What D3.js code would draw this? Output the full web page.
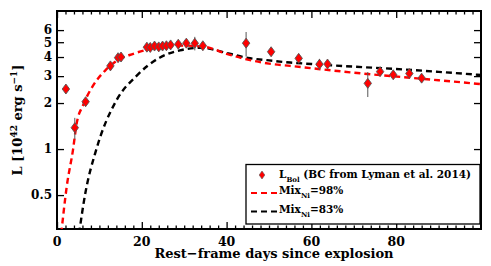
<!DOCTYPE html>
<html>
<head>
    <meta charset="UTF-8">
    <script src="https://d3js.org/d3.v7.min.js"></script>
    <style>
        body { margin: 0; background: #fff; }
        text { font-family: "DejaVu Serif", serif; font-weight: bold; fill: #000; }
    </style>
</head>
<body>
    <div id="chart"></div>
    <script type="text/javascript">
        // Observed bolometric light curve
        const obsDays = [2.1, 4.2, 6.75, 12.6, 14.4, 15.1, 21.2, 22.0, 23.0, 24.0, 24.9, 25.8, 26.8, 28.6, 30.5, 32.5, 34.4,
                         44.6, 50.5, 57.0, 61.9, 63.8, 73.3, 76.2, 79.3, 83.1, 86.0];
        const obsLum  = [2.47, 1.38, 2.04, 3.5, 3.96, 4.0, 4.64, 4.62, 4.72, 4.66, 4.72, 4.74, 4.8, 4.85, 4.93, 4.92, 4.74,
                         4.93, 4.33, 3.92, 3.59, 3.6, 2.69, 3.21, 3.06, 3.12, 2.91];
        const obsErr  = [0.05, 0.22, 0.08, 0.1, 0.08, 0.08, 0.1, 0.1, 0.1, 0.1, 0.1, 0.1, 0.1, 0.15, 0.2, 0.5, 0.15,
                         0.9, 0.12, 0.12, 0.3, 0.15, 0.5, 0.2, 0.1, 0.1, 0.1];

        // Model curves
        const mix98Days = [1.0, 2.3, 3.8, 4.6, 6.2, 8.5, 11.3, 14, 18, 21, 25, 30, 35, 40, 45, 50, 55, 60, 70, 80, 90, 100];
        const mix98Lum  = [0.28, 0.57, 1.0, 1.45, 1.95, 2.6, 3.25, 3.77, 4.2, 4.45, 4.65, 4.75, 4.65, 4.2, 3.85, 3.62, 3.5, 3.38, 3.16, 2.98, 2.82, 2.66];
        const mix83Days = [5.2, 6.6, 9.3, 14, 18.7, 24.2, 29, 34, 40, 45, 50, 55, 60, 70, 80, 90, 100];
        const mix83Lum  = [0.28, 0.5, 1.0, 2.08, 3.0, 3.96, 4.42, 4.6, 4.25, 3.95, 3.8, 3.68, 3.6, 3.46, 3.34, 3.2, 3.05];

        const yTickValues = [0.5, 1, 2, 3, 4, 5, 6];
        const xTickValues = [0, 20, 40, 60, 80];

        const W = 491, H = 266;
        const x = d3.scaleLinear().domain([0, 100]).range([57, 481]);
        const y = d3.scaleLog().domain([0.3, 8]).range([229, 11]);

        const svg = d3.select("#chart").append("svg")
            .attr("width", W).attr("height", H);

        svg.append("defs").append("clipPath").attr("id", "clip")
            .append("rect").attr("x", 57).attr("y", 11).attr("width", 424).attr("height", 218);

        // ticks on all four sides, minor every 2 days on x
        const minorX = d3.range(0, 101, 2).filter(d => d % 20 !== 0);
        svg.append("g").attr("transform", "translate(0,229)")
            .call(d3.axisTop(x).tickValues(xTickValues).tickSize(7).tickFormat(""));
        svg.append("g").attr("transform", "translate(0,229)")
            .call(d3.axisTop(x).tickValues(minorX).tickSize(3.5).tickFormat(""));
        svg.append("g").attr("transform", "translate(0,11)")
            .call(d3.axisBottom(x).tickValues(xTickValues).tickSize(7).tickFormat(""));
        svg.append("g").attr("transform", "translate(0,11)")
            .call(d3.axisBottom(x).tickValues(minorX).tickSize(3.5).tickFormat(""));
        svg.append("g").attr("transform", "translate(57,0)")
            .call(d3.axisRight(y).tickValues(yTickValues).tickSize(7).tickFormat(""));
        svg.append("g").attr("transform", "translate(481,0)")
            .call(d3.axisLeft(y).tickValues(yTickValues).tickSize(7).tickFormat(""));
        svg.selectAll(".domain").remove();
        svg.selectAll(".tick line").attr("stroke", "#000").attr("stroke-width", 1.3);

        // tick labels
        svg.selectAll(".xlab").data(xTickValues).join("text")
            .attr("x", d => x(d)).attr("y", 245.5)
            .attr("text-anchor", "middle").style("font-size", "12.5px")
            .text(d => d);
        svg.selectAll(".ylab").data(yTickValues).join("text")
            .attr("x", 52).attr("y", d => y(d) + 4.3)
            .attr("text-anchor", "end").style("font-size", "12px")
            .text(d => d);

        // frame
        svg.append("rect").attr("x", 57).attr("y", 11).attr("width", 424).attr("height", 218)
            .attr("fill", "none").attr("stroke", "#000").attr("stroke-width", 2);

        // axis titles
        svg.append("text").attr("x", 274).attr("y", 257.5)
            .attr("text-anchor", "middle").style("font-size", "13px")
            .text("Rest\u2212frame days since explosion");

        const yl = svg.append("text").attr("transform", "translate(22,120) rotate(-90)")
            .attr("text-anchor", "middle").style("font-size", "13px");
        yl.append("tspan").text("L [10");
        yl.append("tspan").attr("dy", -5).style("font-size", "9px").text("42");
        yl.append("tspan").attr("dy", 5).text(" erg s");
        yl.append("tspan").attr("dy", -5).style("font-size", "9px").text("\u22121");
        yl.append("tspan").attr("dy", 5).text("]");

        // model lines
        const line = d3.line().x(d => x(d[0])).y(d => y(d[1])).curve(d3.curveMonotoneX);
        const plot = svg.append("g").attr("clip-path", "url(#clip)");
        plot.append("path").datum(d3.zip(mix83Days, mix83Lum))
            .attr("fill", "none").attr("stroke", "#000").attr("stroke-width", 2.4)
            .attr("stroke-dasharray", "6,4").attr("d", line);
        plot.append("path").datum(d3.zip(mix98Days, mix98Lum))
            .attr("fill", "none").attr("stroke", "#ff0000").attr("stroke-width", 2.4)
            .attr("stroke-dasharray", "6,4").attr("d", line);

        // observed points
        const obs = obsDays.map((d, i) => ({ d, L: obsLum[i], e: obsErr[i] }));
        plot.selectAll(".err").data(obs).join("line")
            .attr("x1", p => x(p.d)).attr("x2", p => x(p.d))
            .attr("y1", p => y(p.L + p.e)).attr("y2", p => y(p.L - p.e))
            .attr("stroke", "#555").attr("stroke-width", 1);
        const diamond = "M0,-5L3.7,0L0,5L-3.7,0Z";
        plot.selectAll(".pt").data(obs).join("path")
            .attr("transform", p => `translate(${x(p.d)},${y(p.L)})`)
            .attr("d", diamond).attr("fill", "#ff0000").attr("stroke", "#555").attr("stroke-width", 0.9);

        // legend
        const lg = svg.append("g");
        lg.append("rect").attr("x", 246).attr("y", 164.5).attr("width", 234).attr("height", 59.5)
            .attr("fill", "#fff").attr("stroke", "#000").attr("stroke-width", 1.3);
        lg.append("path").attr("transform", "translate(262,175)").attr("d", "M0,-4L2.8,0L0,4L-2.8,0Z")
            .attr("fill", "#ff0000").attr("stroke", "#555").attr("stroke-width", 0.6);
        const t1 = lg.append("text").attr("x", 279).attr("y", 178).style("font-size", "10.5px");
        t1.append("tspan").text("L");
        t1.append("tspan").attr("dy", 4).style("font-size", "7px").text("Bol");
        t1.append("tspan").attr("dy", -4).text(" (BC from Lyman et al. 2014)");

        const legendLines = [{ c: "#ff0000", t: "=98%", yy: 193 }, { c: "#000", t: "=83%", yy: 211.5 }];
        legendLines.forEach(l => {
            lg.append("line").attr("x1", 251).attr("x2", 277).attr("y1", l.yy).attr("y2", l.yy)
                .attr("stroke", l.c).attr("stroke-width", 2).attr("stroke-dasharray", "6,4");
            const t = lg.append("text").attr("x", 279).attr("y", l.yy + 1).style("font-size", "10.5px");
            t.append("tspan").text("Mix");
            t.append("tspan").attr("dy", 4).style("font-size", "7px").text("Ni");
            t.append("tspan").attr("dy", -4).text(l.t);
        });
    </script>
</body>
</html>
